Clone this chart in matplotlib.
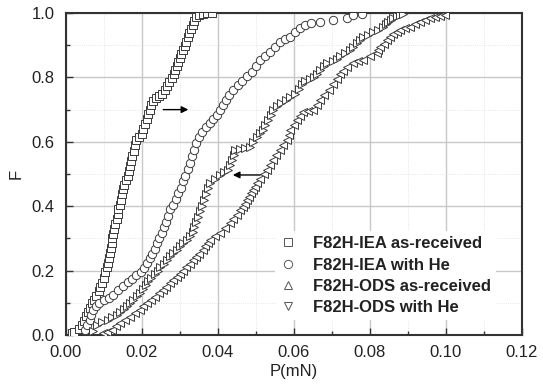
import numpy as np
import matplotlib
matplotlib.use('Agg')
import matplotlib.pyplot as plt
from matplotlib.lines import Line2D
from matplotlib.ticker import MultipleLocator, FormatStrFormatter

plt.rcParams['font.family'] = ['Liberation Sans', 'DejaVu Sans']

# data: (P in mN, F)
iea_ar = [(0.0015, 0.005), (0.0022, 0.008), (0.0035, 0.020), (0.0042, 0.030), (0.0048, 0.045),
          (0.0053, 0.058), (0.0058, 0.070), (0.0063, 0.085), (0.0068, 0.098), (0.0074, 0.110),
          (0.0080, 0.122), (0.0086, 0.137), (0.0090, 0.150), (0.0095, 0.163), (0.0099, 0.178),
          (0.0103, 0.195), (0.0107, 0.210), (0.0110, 0.225), (0.0114, 0.240), (0.0116, 0.255),
          (0.0118, 0.270), (0.0120, 0.285), (0.0122, 0.300), (0.0124, 0.315), (0.0127, 0.330),
          (0.0130, 0.345), (0.0133, 0.360), (0.0136, 0.375), (0.0138, 0.390), (0.0141, 0.405),
          (0.0144, 0.420), (0.0147, 0.437), (0.0150, 0.452), (0.0154, 0.467), (0.0158, 0.480),
          (0.0162, 0.495), (0.0165, 0.510), (0.0169, 0.525), (0.0172, 0.540), (0.0175, 0.556),
          (0.0178, 0.572), (0.0181, 0.590), (0.0184, 0.605), (0.0192, 0.615), (0.0200, 0.625),
          (0.0204, 0.640), (0.0208, 0.655), (0.0212, 0.670), (0.0216, 0.685), (0.0220, 0.700),
          (0.0225, 0.715), (0.0230, 0.728), (0.0238, 0.735), (0.0246, 0.742), (0.0254, 0.750),
          (0.0261, 0.760), (0.0267, 0.772), (0.0272, 0.785), (0.0278, 0.797), (0.0283, 0.810),
          (0.0287, 0.823), (0.0291, 0.836), (0.0295, 0.848), (0.0299, 0.860), (0.0303, 0.872),
          (0.0308, 0.885), (0.0312, 0.898), (0.0316, 0.910), (0.0320, 0.925), (0.0324, 0.937),
          (0.0328, 0.950), (0.0333, 0.962), (0.0338, 0.975), (0.0343, 0.987), (0.0350, 0.995),
          (0.0360, 0.998), (0.0372, 1.000), (0.0384, 1.000)]

iea_he = [(0.0050, 0.015), (0.0055, 0.030), (0.0062, 0.047), (0.0067, 0.062), (0.0071, 0.078),
          (0.0078, 0.090), (0.0088, 0.100), (0.0100, 0.108), (0.0112, 0.116), (0.0125, 0.125),
          (0.0138, 0.140), (0.0150, 0.152), (0.0162, 0.165), (0.0173, 0.175), (0.0185, 0.185),
          (0.0197, 0.195), (0.0206, 0.208), (0.0213, 0.224), (0.0220, 0.238), (0.0227, 0.252),
          (0.0233, 0.268), (0.0240, 0.285), (0.0246, 0.300), (0.0252, 0.318), (0.0257, 0.335),
          (0.0262, 0.352), (0.0268, 0.370), (0.0274, 0.390), (0.0281, 0.405), (0.0289, 0.422),
          (0.0296, 0.440), (0.0302, 0.458), (0.0308, 0.477), (0.0314, 0.495), (0.0320, 0.515),
          (0.0326, 0.535), (0.0331, 0.555), (0.0336, 0.575), (0.0342, 0.595), (0.0350, 0.615),
          (0.0358, 0.632), (0.0368, 0.645), (0.0379, 0.658), (0.0388, 0.670), (0.0397, 0.683),
          (0.0405, 0.698), (0.0412, 0.714), (0.0420, 0.730), (0.0430, 0.745), (0.0440, 0.760),
          (0.0452, 0.775), (0.0463, 0.790), (0.0476, 0.803), (0.0490, 0.817), (0.0500, 0.835),
          (0.0510, 0.854), (0.0523, 0.867), (0.0537, 0.880), (0.0550, 0.895), (0.0563, 0.910),
          (0.0577, 0.918), (0.0590, 0.926), (0.0603, 0.940), (0.0616, 0.953), (0.0630, 0.962),
          (0.0645, 0.970), (0.0668, 0.972), (0.0703, 0.978), (0.0740, 0.985), (0.0755, 0.994),
          (0.0780, 0.997)]

ods_ar = [(0.0097, 0.006), (0.0108, 0.010), (0.0120, 0.016), (0.0131, 0.027), (0.0142, 0.037),
          (0.0155, 0.047), (0.0168, 0.056), (0.0181, 0.067), (0.0195, 0.078), (0.0204, 0.089),
          (0.0213, 0.100), (0.0224, 0.109), (0.0234, 0.118), (0.0245, 0.129), (0.0255, 0.140),
          (0.0264, 0.150), (0.0273, 0.160), (0.0282, 0.171), (0.0291, 0.180), (0.0300, 0.190),
          (0.0308, 0.200), (0.0317, 0.211), (0.0326, 0.222), (0.0334, 0.233), (0.0343, 0.243),
          (0.0351, 0.253), (0.0360, 0.264), (0.0367, 0.275), (0.0373, 0.285), (0.0379, 0.295),
          (0.0392, 0.306), (0.0405, 0.317), (0.0418, 0.332), (0.0432, 0.348), (0.0440, 0.360),
          (0.0449, 0.373), (0.0458, 0.388), (0.0465, 0.398), (0.0471, 0.408), (0.0476, 0.419),
          (0.0482, 0.430), (0.0487, 0.440), (0.0492, 0.450), (0.0497, 0.461), (0.0502, 0.472),
          (0.0510, 0.485), (0.0520, 0.499), (0.0529, 0.512), (0.0537, 0.528), (0.0545, 0.543),
          (0.0554, 0.558), (0.0563, 0.575), (0.0572, 0.590), (0.0582, 0.606), (0.0586, 0.620),
          (0.0590, 0.637), (0.0599, 0.652), (0.0608, 0.668), (0.0616, 0.680), (0.0624, 0.693),
          (0.0637, 0.697), (0.0650, 0.700), (0.0660, 0.715), (0.0668, 0.730), (0.0680, 0.745),
          (0.0692, 0.762), (0.0703, 0.780), (0.0712, 0.795), (0.0721, 0.810), (0.0730, 0.820),
          (0.0740, 0.832), (0.0755, 0.845), (0.0768, 0.850), (0.0782, 0.854), (0.0800, 0.865),
          (0.0818, 0.876), (0.0822, 0.885), (0.0826, 0.894), (0.0836, 0.905), (0.0845, 0.916),
          (0.0853, 0.926), (0.0860, 0.935), (0.0870, 0.941), (0.0879, 0.947), (0.0892, 0.952),
          (0.0905, 0.957), (0.0918, 0.965), (0.0932, 0.972), (0.0945, 0.979), (0.0958, 0.985),
          (0.0971, 0.988), (0.0984, 0.990), (0.0997, 0.994)]

ods_he = [(0.0071, 0.012), (0.0082, 0.030), (0.0095, 0.040), (0.0110, 0.047), (0.0122, 0.055),
          (0.0134, 0.062), (0.0142, 0.070), (0.0152, 0.080), (0.0160, 0.090), (0.0168, 0.100),
          (0.0176, 0.110), (0.0186, 0.120), (0.0195, 0.130), (0.0203, 0.142), (0.0210, 0.155),
          (0.0216, 0.167), (0.0225, 0.178), (0.0234, 0.188), (0.0241, 0.200), (0.0248, 0.212),
          (0.0257, 0.222), (0.0266, 0.233), (0.0274, 0.245), (0.0282, 0.255), (0.0291, 0.265),
          (0.0300, 0.275), (0.0309, 0.285), (0.0318, 0.296), (0.0326, 0.308), (0.0334, 0.320),
          (0.0337, 0.335), (0.0342, 0.350), (0.0347, 0.367), (0.0353, 0.385), (0.0358, 0.402),
          (0.0363, 0.420), (0.0368, 0.438), (0.0374, 0.455), (0.0380, 0.472), (0.0392, 0.485),
          (0.0405, 0.497), (0.0416, 0.505), (0.0426, 0.512), (0.0432, 0.528), (0.0437, 0.543),
          (0.0441, 0.560), (0.0446, 0.575), (0.0458, 0.577), (0.0471, 0.580), (0.0484, 0.585),
          (0.0493, 0.600), (0.0502, 0.615), (0.0510, 0.627), (0.0518, 0.638), (0.0525, 0.652),
          (0.0532, 0.668), (0.0539, 0.684), (0.0545, 0.700), (0.0556, 0.712), (0.0567, 0.720),
          (0.0578, 0.730), (0.0590, 0.740), (0.0603, 0.750), (0.0612, 0.765), (0.0620, 0.780),
          (0.0630, 0.790), (0.0641, 0.795), (0.0652, 0.802), (0.0660, 0.812), (0.0668, 0.823),
          (0.0678, 0.835), (0.0687, 0.845), (0.0703, 0.852), (0.0712, 0.858), (0.0721, 0.865),
          (0.0734, 0.875), (0.0747, 0.885), (0.0756, 0.896), (0.0766, 0.906), (0.0774, 0.916),
          (0.0782, 0.926), (0.0795, 0.933), (0.0808, 0.940), (0.0821, 0.948), (0.0834, 0.957),
          (0.0841, 0.965), (0.0847, 0.972), (0.0854, 0.979), (0.0860, 0.985), (0.0870, 0.990),
          (0.0879, 0.994), (0.0887, 0.997)]

labels = ['F82H-IEA as-received', 'F82H-IEA with He',
          'F82H-ODS as-received', 'F82H-ODS with He']

ec = '#3a3a3a'
fig = plt.figure(figsize=(5.43, 3.92), dpi=100)
ax = fig.add_axes([0.1215, 0.1454, 0.8398, 0.8214])

kw = dict(ls='none', mfc='white', mec=ec, mew=0.7, ms=6, zorder=3)
for pts, m in [(iea_ar, 's'), (iea_he, 'o'), (ods_ar, '<'), (ods_he, '>')]:
    p, f = zip(*pts)
    ax.plot(p, f, marker=m, **kw)

# arrows marking the shift with He
ax.annotate('', xy=(0.0322, 0.70), xytext=(0.0256, 0.70),
            arrowprops=dict(arrowstyle='-|>', color='black', lw=1.0,
                            mutation_scale=10, shrinkA=0, shrinkB=0))
ax.annotate('', xy=(0.0439, 0.497), xytext=(0.0511, 0.497),
            arrowprops=dict(arrowstyle='-|>', color='black', lw=1.0,
                            mutation_scale=10, shrinkA=0, shrinkB=0))

ax.set_xlim(0, 0.12)
ax.set_ylim(0, 1.0)
ax.xaxis.set_major_locator(MultipleLocator(0.02))
ax.xaxis.set_minor_locator(MultipleLocator(0.01))
ax.yaxis.set_major_locator(MultipleLocator(0.2))
ax.yaxis.set_minor_locator(MultipleLocator(0.1))
ax.xaxis.set_major_formatter(FormatStrFormatter('%.2f'))
ax.yaxis.set_major_formatter(FormatStrFormatter('%.1f'))

ax.grid(True, which='major', color='#c8c8c8', lw=1.0, zorder=0)
ax.grid(True, which='minor', color='#dddddd', lw=0.6, ls=':', zorder=0)
ax.set_axisbelow(True)

ax.tick_params(which='both', direction='in', top=False, right=False,
               colors='#333333', labelcolor='#222222', labelsize=12)
ax.tick_params(which='major', length=5, width=1.0)
ax.tick_params(which='minor', length=3, width=1.0)
ax.tick_params(axis='x', which='major', pad=7)
ax.tick_params(axis='y', which='major', pad=8)
for s in ax.spines.values():
    s.set_color('#333333')
    s.set_linewidth(1.5)

ax.set_xlabel('P(mN)', fontsize=12, labelpad=3, color='#222222')
ax.set_ylabel('F', fontsize=12, labelpad=6, color='#222222')

handles = [Line2D([], [], ls='none', marker=m, mfc='white', mec='#555555',
                  mew=0.7, ms=6) for m in ['s', 'o', '^', 'v']]
leg = ax.legend(handles, labels, loc='lower left', bbox_to_anchor=(0.44, 0.02),
                frameon=True, fancybox=False, framealpha=1.0, edgecolor='none',
                prop={'weight': 'bold', 'size': 12}, handletextpad=1.0,
                labelspacing=0.38, handlelength=1.0, borderpad=0.3)
for t in leg.get_texts():
    t.set_color('#222222')

fig.savefig('out.png', dpi=100)
